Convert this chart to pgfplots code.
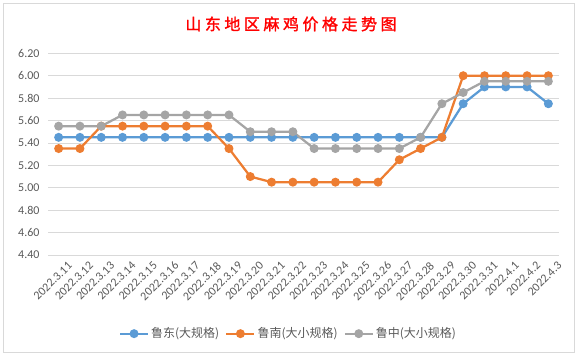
\documentclass[border=0pt]{standalone}
\usepackage{pgfplots}
\pgfplotsset{compat=1.18}
\usepackage{fontspec}
\setmainfont{Carlito}
\newfontfamily\cjk{Noto Sans CJK SC}
\newfontfamily\cjktitle[LetterSpace=22,FakeBold=1.5]{Noto Sans CJK SC}
\definecolor{cblue}{HTML}{5B9BD5}
\definecolor{corange}{HTML}{ED7D31}
\definecolor{cgray}{HTML}{A5A5A5}
\definecolor{ctext}{HTML}{595959}
\definecolor{cgrid}{HTML}{D9D9D9}
\begin{document}
\begin{tikzpicture}[x=1pt,y=1pt]
\path (0,0) rectangle (578,-356);
\draw[cgrid, line width=0.8pt] (3,-3) rectangle (574,-352);
\node[text=red, font=\cjktitle\fontsize{16}{18}\selectfont] at (291,-24) {山东地区麻鸡价格走势图};
\begin{axis}[
  at={(48pt,-53.3pt)}, anchor=north west,
  scale only axis, width=511pt, height=201.7pt,
  xmin=-0.5, xmax=23.5, ymin=4.4, ymax=6.2,
  ytick={4.4,4.6,4.8,5.0,5.2,5.4,5.6,5.8,6.0,6.2},
  xtick={0,...,23},
  xticklabels={2022.3.11,2022.3.12,2022.3.13,2022.3.14,2022.3.15,2022.3.16,2022.3.17,2022.3.18,2022.3.19,2022.3.20,2022.3.21,2022.3.22,2022.3.23,2022.3.24,2022.3.25,2022.3.26,2022.3.27,2022.3.28,2022.3.29,2022.3.30,2022.3.31,2022.4.1,2022.4.2,2022.4.3},
  axis line style={draw=none},
  major tick length=0pt,
  ymajorgrids, grid style={cgrid, line width=0.8pt},
  yticklabel style={/pgf/number format/fixed, /pgf/number format/fixed zerofill, /pgf/number format/precision=2, /pgf/number format/assume math mode=true, xshift=-5pt},
  ticklabel style={text=ctext, font=\fontsize{12}{14}\selectfont},
  xticklabel style={rotate=45, anchor=north east, inner sep=1pt, yshift=-9pt, xshift=3pt},
  every axis plot/.append style={line width=2.25pt, mark=*, mark size=3.3pt},
  legend columns=3,
  legend style={at={(0.4706,-0.39)}, anchor=center, draw=none, fill=none,
    font=\cjk\fontsize{12}{14}\selectfont, text=ctext,
    /tikz/every even column/.append style={column sep=4pt}},
  legend image code/.code={\draw[mark repeat=2,mark phase=2,#1] plot coordinates {(0pt,0pt) (14pt,0pt) (28pt,0pt)};},
]
\addplot[cblue, mark options={fill=cblue, draw=cblue}] coordinates {
(0,5.45)(1,5.45)(2,5.45)(3,5.45)(4,5.45)(5,5.45)(6,5.45)(7,5.45)(8,5.45)(9,5.45)(10,5.45)(11,5.45)(12,5.45)(13,5.45)(14,5.45)(15,5.45)(16,5.45)(17,5.45)(18,5.45)(19,5.75)(20,5.90)(21,5.90)(22,5.90)(23,5.75)};
\addlegendentry{鲁东(大规格)}
\addplot[corange, mark options={fill=corange, draw=corange}] coordinates {
(0,5.35)(1,5.35)(2,5.55)(3,5.55)(4,5.55)(5,5.55)(6,5.55)(7,5.55)(8,5.35)(9,5.10)(10,5.05)(11,5.05)(12,5.05)(13,5.05)(14,5.05)(15,5.05)(16,5.25)(17,5.35)(18,5.45)(19,6.00)(20,6.00)(21,6.00)(22,6.00)(23,6.00)};
\addlegendentry{鲁南(大小规格)}
\addplot[cgray, mark options={fill=cgray, draw=cgray}] coordinates {
(0,5.55)(1,5.55)(2,5.55)(3,5.65)(4,5.65)(5,5.65)(6,5.65)(7,5.65)(8,5.65)(9,5.50)(10,5.50)(11,5.50)(12,5.35)(13,5.35)(14,5.35)(15,5.35)(16,5.35)(17,5.45)(18,5.75)(19,5.85)(20,5.95)(21,5.95)(22,5.95)(23,5.95)};
\addlegendentry{鲁中(大小规格)}
\end{axis}
\end{tikzpicture}
\end{document}
